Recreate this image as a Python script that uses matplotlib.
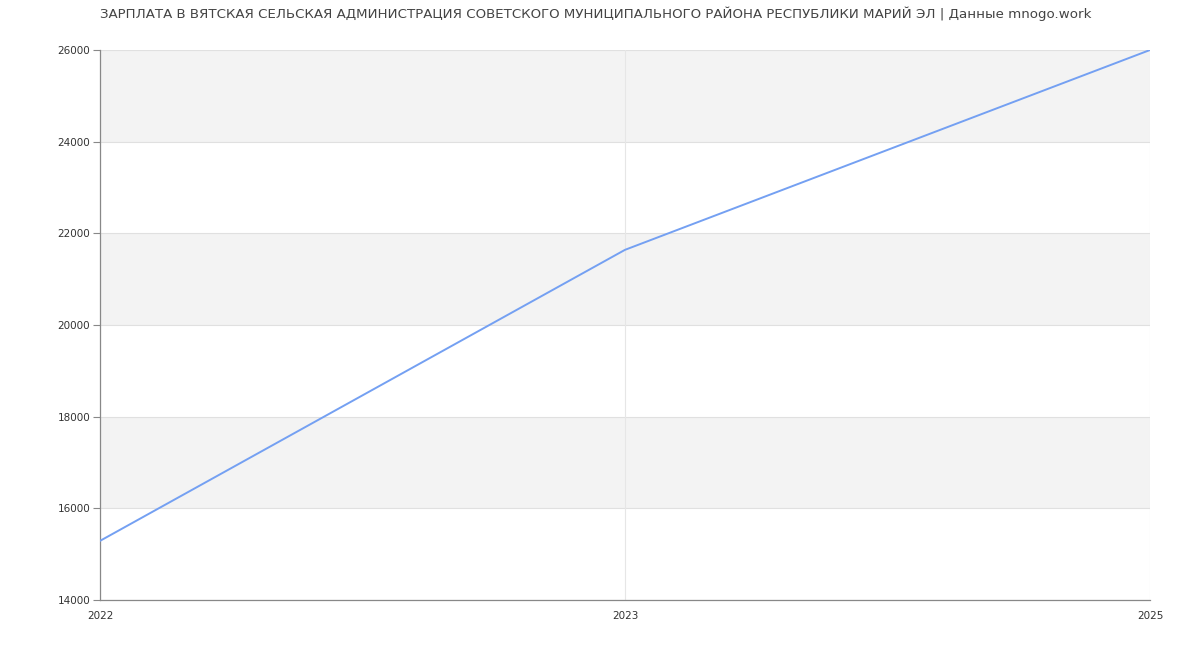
import matplotlib
matplotlib.use("Agg")
import matplotlib.pyplot as plt

years = ["2022", "2023", "2025"]
salary = [15290, 21640, 26000]
y_ticks = [14000, 16000, 18000, 20000, 22000, 24000, 26000]
title = "ЗАРПЛАТА В ВЯТСКАЯ СЕЛЬСКАЯ АДМИНИСТРАЦИЯ СОВЕТСКОГО МУНИЦИПАЛЬНОГО РАЙОНА РЕСПУБЛИКИ МАРИЙ ЭЛ | Данные mnogo.work"

plt.rcParams['font.family'] = ['DejaVu Sans']
fig = plt.figure(figsize=(12, 6.5), dpi=100)
ax = fig.add_axes([100/1200, 50/650, 1050/1200, 550/650])

x = list(range(len(years)))
ax.set_xlim(0, len(years) - 1)
ax.set_ylim(y_ticks[0], y_ticks[-1])

# alternating bands
for i in range(len(y_ticks) - 1):
    if i % 2 == 1:
        ax.axhspan(y_ticks[i], y_ticks[i + 1], color="#f3f3f3", zorder=0, lw=0)
for yv in y_ticks:
    ax.axhline(yv, color="#e0e0e0", lw=0.8, zorder=1)
for xv in x:
    ax.axvline(xv, color="#e6e6e6", lw=0.8, zorder=1)

ax.plot(x, salary, color="#74a0f2", lw=1.4, zorder=3, solid_capstyle="round")

ax.set_xticks(x)
ax.set_xticklabels(years)
ax.set_yticks(y_ticks)
ax.set_yticklabels([str(v) for v in y_ticks])
ax.tick_params(axis="x", length=0, labelsize=7.5, colors="#333333", pad=8)
for lbl in ax.get_xticklabels():
    lbl.set_x(lbl.get_position()[0])
ax.tick_params(axis="y", length=5, width=0.8, color="#888888", labelsize=7.5, labelcolor="#333333", pad=2)

for s in ["top", "right"]:
    ax.spines[s].set_visible(False)
for s in ["left", "bottom"]:
    ax.spines[s].set_color("#888888")
    ax.spines[s].set_linewidth(0.9)

fig.text(100/1200, 1 - 14/650, title, fontsize=9.65, color="#444444", ha="left", va="center")

fig.savefig("out.png", dpi=100)
